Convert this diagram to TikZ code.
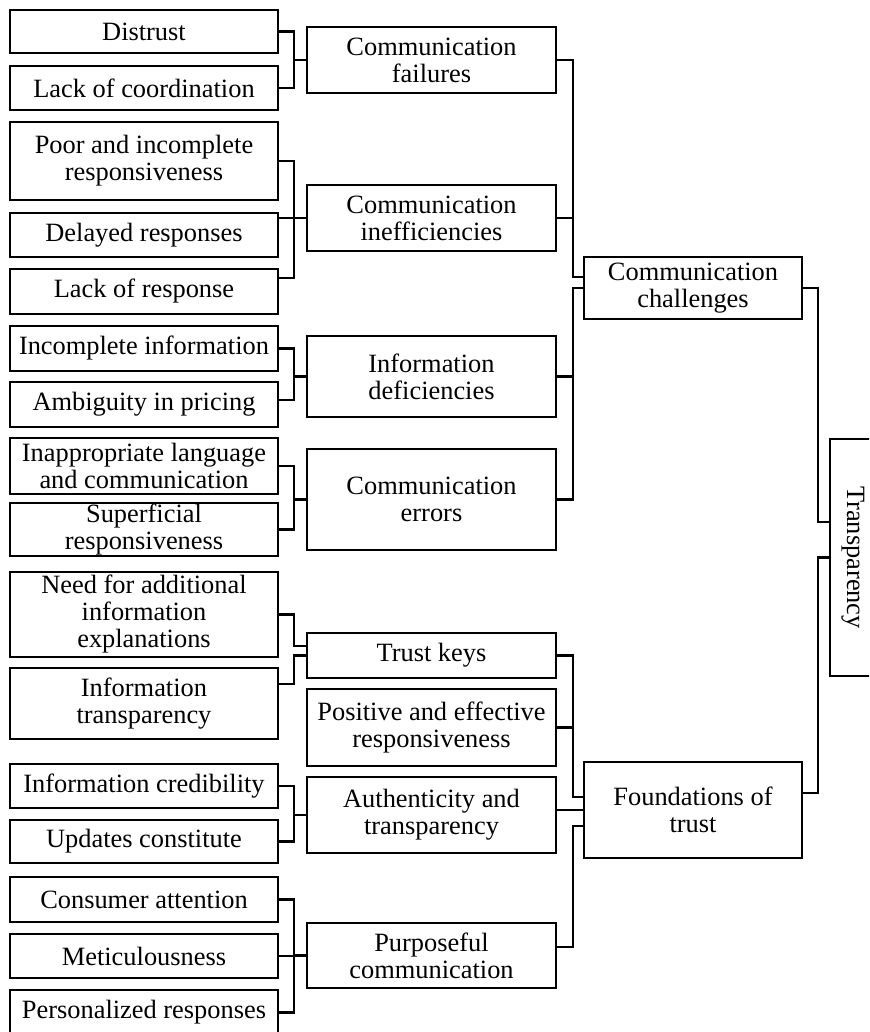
\documentclass[tikz,border=0pt]{standalone}
\usepackage{fontspec}
\setmainfont{Liberation Serif}
\newcommand\mybox[6]{\node[box, minimum width={(#4-#2)*1pt}, minimum height={(#5-#3)*1pt}] (#1) at ({(#2+#4)/2},{(#3+#5)/2}) {#6};}
\begin{document}
\begin{tikzpicture}[x=1pt,y=-1pt,
  box/.style={draw, line width=2.6pt, align=center, inner sep=0pt, font=\fontsize{26.4pt}{27pt}\selectfont},
  conn/.style={draw, line width=2.3pt}]
\useasboundingbox (0,0) rectangle (869,1032);
\clip (0,0) rectangle (869,1032);
% left column
\mybox{distrust}{10}{10}{278}{53}{Distrust}
\mybox{lackcoord}{10}{66}{278}{110}{Lack of coordination}
\mybox{poor}{10}{122}{278}{200}{Poor and incomplete\\responsiveness}
\mybox{delayed}{10}{213}{278}{257}{Delayed responses}
\mybox{lackresp}{10}{269}{278}{314}{Lack of response}
\mybox{incinfo}{10}{326}{278}{371}{Incomplete information}
\mybox{ambig}{10}{382}{278}{427}{Ambiguity in pricing}
\mybox{inapp}{10}{438}{278}{494}{Inappropriate language\\and communication}
\mybox{superf}{10}{503}{278}{556}{Superficial\\responsiveness}
\mybox{needfor}{10}{572}{278}{657}{Need for additional\\information\\explanations}
\mybox{infotrans}{10}{668}{278}{739}{Information\\transparency}
\mybox{infocred}{10}{764}{278}{808}{Information credibility}
\mybox{updates}{10}{820}{278}{863}{Updates constitute}
\mybox{consumer}{10}{877}{278}{922}{Consumer attention}
\mybox{metic}{10}{934}{278}{978}{Meticulousness}
\mybox{personal}{10}{990}{278}{1035}{Personalized responses}
% middle column
\mybox{failures}{307}{27}{556}{93}{Communication\\failures}
\mybox{ineff}{307}{185}{556}{251}{Communication\\inefficiencies}
\mybox{infodef}{307}{336}{556}{417}{Information\\deficiencies}
\mybox{errors}{307}{449}{556}{550}{Communication\\errors}
\mybox{trustkeys}{307}{633}{556}{678}{Trust keys}
\mybox{positive}{307}{689}{556}{766}{Positive and effective\\responsiveness}
\mybox{authent}{307}{777}{556}{853}{Authenticity and\\transparency}
\mybox{purpose}{307}{923}{556}{988}{Purposeful\\communication}
% right columns
\mybox{challenges}{584}{257}{802}{319}{Communication\\challenges}
\mybox{foundations}{584}{762}{802}{858}{Foundations of\\trust}
\node[box, rotate=-90, minimum width=237pt, minimum height=46pt] (trans) at (853,557.5) {Transparency};
% connectors left -> middle
\draw[conn] (distrust.east) -- ++(15,0) |- (failures.west);
\draw[conn] (lackcoord.east) -- ++(15,0) |- (failures.west);
\draw[conn] (poor.east) -- ++(15,0) |- (ineff.west);
\draw[conn] ([yshift=17pt]delayed.east) -- (ineff.west);
\draw[conn] ([yshift=13.5pt]lackresp.east) -- ++(15,0) |- (ineff.west);
\draw[conn] (incinfo.east) -- ++(15,0) |- (infodef.west);
\draw[conn] ([yshift=4.5pt]ambig.east) -- ++(15,0) |- (infodef.west);
\draw[conn] (inapp.east) -- ++(15,0) |- (errors.west);
\draw[conn] (superf.east) -- ++(15,0) |- (errors.west);
\draw[conn] (needfor.east) -- ++(15,0) |- ([yshift=9.5pt]trustkeys.west);
\draw[conn] ([yshift=19.5pt]infotrans.east) -- ++(15,0) |- (trustkeys.west);
\draw[conn] (infocred.east) -- ++(15,0) |- (authent.west);
\draw[conn] (updates.east) -- ++(15,0) |- (authent.west);
\draw[conn] (consumer.east) -- ++(15,0) |- (purpose.west);
\draw[conn] (metic.east) -- ++(15,0) |- (purpose.west);
\draw[conn] (personal.east) -- ++(15,0) |- (purpose.west);
% middle -> right
\draw[conn] (failures.east) -- ++(16,0) |- ([yshift=11pt]challenges.west);
\draw[conn] (ineff.east) -- ++(16,0) |- ([yshift=11pt]challenges.west);
\draw[conn] (infodef.east) -- ++(16,0) |- (challenges.west);
\draw[conn] (errors.east) -- ++(16,0) |- (challenges.west);
\draw[conn] (trustkeys.east) -- ++(16,0) |- ([yshift=13pt]foundations.west);
\draw[conn] (positive.east) -- ++(16,0) |- ([yshift=13pt]foundations.west);
\draw[conn] ([yshift=5pt]authent.east) -- (foundations.west);
\draw[conn] ([yshift=8.5pt]purpose.east) -- ++(16,0) |- ([yshift=-16pt]foundations.west);
% right -> transparency
\draw[conn] (challenges.east) -- ++(15,0) |- ([yshift=35.5pt]trans.south);
\draw[conn] ([yshift=17pt]foundations.east) -- ++(15,0) |- (trans.south);
\end{tikzpicture}
\end{document}
